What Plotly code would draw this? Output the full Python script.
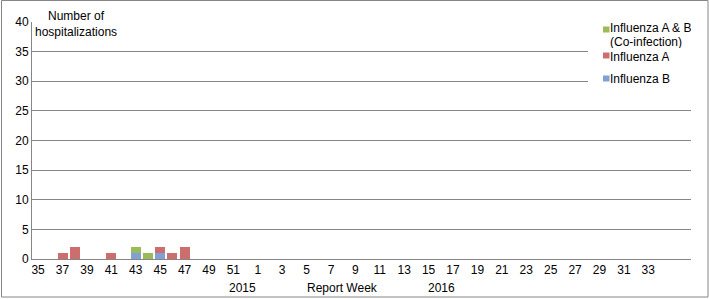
import plotly.graph_objects as go

# Report weeks: 2015 week 35 through 2016 week 34, plus two spare slots
weeks = list(range(35, 53)) + list(range(1, 37))
flu_b = [0, 0, 0, 0, 0, 0, 0, 0, 1, 0, 1, 0, 0] + [0] * 41
flu_a = [0, 0, 1, 2, 0, 0, 1, 0, 0, 0, 1, 1, 2] + [0] * 41
flu_ab = [0, 0, 0, 0, 0, 0, 0, 0, 1, 1, 0, 0, 0] + [0] * 41
tick_weeks = [35, 37, 39, 41, 43, 45, 47, 49, 51, 1, 3, 5, 7, 9, 11, 13, 15,
              17, 19, 21, 23, 25, 27, 29, 31, 33]

series = [
    ("Influenza B", flu_b, "#7FA1D4"),
    ("Influenza A", flu_a, "#CD6E6E"),
    ("Influenza A & B (Co-infection)", flu_ab, "#9BBB59"),
]

W, H = 709, 299
ML, MR, MT, MB = 32, 18, 22, 40
PW, PH = W - ML - MR, H - MT - MB

x_idx = list(range(len(weeks)))
tick_idx = [i for i, w in enumerate(weeks[:52]) if w in tick_weeks]
tick_txt = [str(weeks[i]) for i in tick_idx]

FONT = "Liberation Sans, Arial, sans-serif"
GRID = "#868686"


def px_x(p):
    return (p - ML) / PW


def px_y(p):
    return 1 - (p - MT) / PH


fig = go.Figure()
for name, vals, color in series:
    fig.add_bar(x=x_idx, y=vals, name=name, marker_color=color,
                marker_line_width=0, showlegend=False)

shapes = [
    # legend backdrop over the gridlines
    dict(type="rect", xref="paper", yref="paper",
         x0=px_x(588), x1=px_x(702), y0=px_y(90), y1=px_y(24),
         line=dict(width=0), fillcolor="white", layer="above"),
    # chart border
    dict(type="rect", xref="paper", yref="paper",
         x0=px_x(1.5), x1=px_x(708), y0=px_y(297), y1=px_y(0.5),
         line=dict(color=GRID, width=1), fillcolor="rgba(0,0,0,0)",
         layer="above"),
]
annotations = [
    dict(text="Number of<br>hospitalizations", xref="paper", yref="paper",
         x=px_x(33), y=px_y(7), xanchor="left", yanchor="top",
         showarrow=False, align="center", bgcolor="white"),
    dict(text="2015", xref="paper", yref="paper", x=px_x(243),
         y=px_y(288), xanchor="center", yanchor="middle", showarrow=False),
    dict(text="Report Week", xref="paper", yref="paper", x=px_x(342),
         y=px_y(288), xanchor="center", yanchor="middle", showarrow=False),
    dict(text="2016", xref="paper", yref="paper", x=px_x(441),
         y=px_y(288), xanchor="center", yanchor="middle", showarrow=False),
]

# legend entries (top to bottom): co-infection, A, B
legend_rows = [
    (series[2][2], ["Influenza A & B", "(Co-infection)"], 29.5, [28, 42]),
    (series[1][2], ["Influenza A"], 55.5, [56.5]),
    (series[0][2], ["Influenza B"], 78.5, [78.5]),
]
for color, lines, sq_y, txt_ys in legend_rows:
    shapes.append(dict(type="rect", xref="paper", yref="paper",
                       x0=px_x(603), x1=px_x(609.5),
                       y0=px_y(sq_y + 3), y1=px_y(sq_y - 3),
                       line=dict(width=0), fillcolor=color, layer="above"))
    for line, ty in zip(lines, txt_ys):
        annotations.append(dict(text=line, xref="paper", yref="paper",
                                x=px_x(609), y=px_y(ty), xanchor="left",
                                yanchor="middle", align="left",
                                showarrow=False, height=12, borderpad=0))

fig.update_layout(
    width=W, height=H,
    margin=dict(l=ML, r=MR, t=MT, b=MB, autoexpand=False),
    barmode="stack", bargap=0.18,
    plot_bgcolor="white", paper_bgcolor="white",
    font=dict(family=FONT, size=12, color="black"),
    showlegend=False,
    xaxis=dict(
        range=[-0.5, len(weeks) - 0.5],
        tickmode="array", tickvals=tick_idx, ticktext=tick_txt,
        showgrid=False, showline=True, linecolor=GRID, linewidth=1,
        ticks="", zeroline=False,
    ),
    yaxis=dict(
        range=[0, 40], dtick=5, showgrid=True, gridcolor=GRID,
        gridwidth=1, showline=True, linecolor=GRID, linewidth=1,
        ticks="", zeroline=False,
    ),
    shapes=shapes,
    annotations=annotations,
)

fig.write_html("out.html")
